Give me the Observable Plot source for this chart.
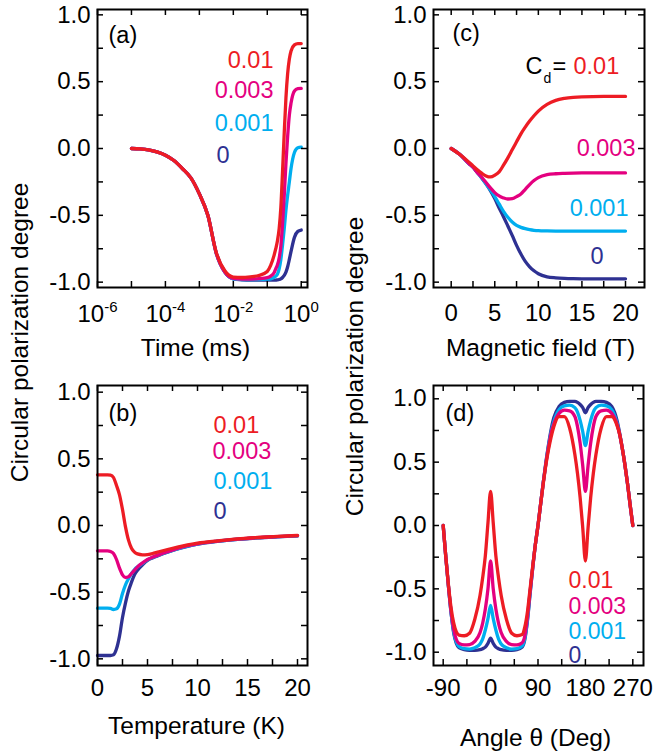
<!DOCTYPE html>
<html><head><meta charset="utf-8">
<script src="https://cdn.jsdelivr.net/npm/d3@7"></script>
<script src="https://cdn.jsdelivr.net/npm/@observablehq/plot@0.6"></script>
<style>
html,body{margin:0;padding:0;background:#fff;}
#chart{position:relative;width:653px;height:752px;overflow:hidden;}
#chart svg{position:absolute;left:0;top:0;}
</style></head><body><div id="chart"></div>
<script>
// ---------- data ----------
const seriesOrder = ["0", "0.001", "0.003", "0.01"];   // C_d values (drawing order)
const yTickLabels = [-1, -0.5, 0, 0.5, 1];
const yTickMarks = [-1, -0.75, -0.5, -0.25, 0, 0.25, 0.5, 0.75, 1];

// (a) time dependence, exponent of time in ms
const timeExp = [-5, -4.75, -4.5, -4.25, -4, -3.75, -3.5, -3.25, -3, -2.75, -2.5, -2.25, -2, -1.75, -1.5, -1.25, -1, -0.9, -0.8, -0.75, -0.7, -0.65, -0.6, -0.55, -0.5, -0.45, -0.4, -0.35, -0.3, -0.2, -0.1, 0];
const aRed     = [0, -0.003, -0.01, -0.025, -0.05, -0.09, -0.15, -0.22, -0.34, -0.5, -0.78, -0.915, -0.962, -0.965, -0.96, -0.95, -0.92, -0.875, -0.8, -0.75, -0.69, -0.6, -0.44, -0.17, 0.12, 0.38, 0.56, 0.67, 0.73, 0.775, 0.785, 0.785];
const aMagenta = [0, -0.003, -0.01, -0.025, -0.05, -0.09, -0.15, -0.22, -0.34, -0.5, -0.785, -0.925, -0.972, -0.978, -0.977, -0.974, -0.966, -0.955, -0.93, -0.9, -0.87, -0.82, -0.73, -0.56, -0.35, -0.11, 0.09, 0.25, 0.34, 0.43, 0.448, 0.45];
const aCyan    = [0, -0.003, -0.01, -0.025, -0.05, -0.09, -0.15, -0.22, -0.34, -0.5, -0.785, -0.925, -0.975, -0.98, -0.98, -0.98, -0.978, -0.975, -0.965, -0.955, -0.94, -0.9, -0.83, -0.72, -0.6, -0.46, -0.35, -0.25, -0.15, -0.03, 0.005, 0.01];
const aNavy    = [0, -0.003, -0.01, -0.025, -0.05, -0.09, -0.15, -0.22, -0.34, -0.5, -0.785, -0.925, -0.975, -0.982, -0.985, -0.985, -0.985, -0.985, -0.985, -0.985, -0.983, -0.98, -0.975, -0.965, -0.95, -0.925, -0.885, -0.83, -0.77, -0.665, -0.62, -0.61];
const aXTickLabels = [1e-6, 1e-4, 1e-2, 1];
const aXTickMarks = [1e-6, 1e-5, 1e-4, 1e-3, 1e-2, 1e-1, 1];

// (c) magnetic field dependence
const field = [0, 1, 2, 2.5, 3, 3.5, 4, 4.5, 5, 5.5, 6, 6.5, 7, 7.5, 8, 8.5, 9, 9.5, 10, 11, 12, 13, 14, 15, 17.5, 20];
const cNavy    = [0, -0.045, -0.11, -0.14, -0.18, -0.22, -0.265, -0.315, -0.375, -0.445, -0.51, -0.58, -0.65, -0.725, -0.79, -0.845, -0.885, -0.915, -0.937, -0.96, -0.968, -0.972, -0.974, -0.975, -0.975, -0.975];
const cCyan    = [0, -0.045, -0.11, -0.14, -0.18, -0.22, -0.265, -0.31, -0.36, -0.415, -0.47, -0.515, -0.55, -0.575, -0.59, -0.6, -0.607, -0.612, -0.615, -0.617, -0.618, -0.618, -0.618, -0.618, -0.618, -0.618];
const cMagenta = [0, -0.045, -0.11, -0.14, -0.18, -0.215, -0.255, -0.295, -0.33, -0.355, -0.37, -0.378, -0.375, -0.36, -0.34, -0.305, -0.27, -0.24, -0.218, -0.196, -0.189, -0.186, -0.184, -0.183, -0.183, -0.183];
const cRed     = [0, -0.045, -0.1, -0.13, -0.16, -0.185, -0.205, -0.213, -0.2, -0.175, -0.125, -0.07, -0.01, 0.05, 0.11, 0.16, 0.205, 0.245, 0.28, 0.33, 0.36, 0.375, 0.383, 0.387, 0.39, 0.39];
const cXTickLabels = [0, 5, 10, 15, 20];
const cXTickMarks = [0, 2.5, 5, 7.5, 10, 12.5, 15, 17.5, 20];

// (b) temperature dependence
const temperature = [0, 0.5, 1, 1.3, 1.6, 1.9, 2.2, 2.5, 2.8, 3.1, 3.4, 3.7, 4, 4.5, 5, 5.5, 6, 7, 8, 9, 10, 12, 14, 16, 18, 20];
const bRed     = [0.38, 0.38, 0.38, 0.378, 0.36, 0.3, 0.23, 0.12, -0.01, -0.11, -0.17, -0.2, -0.213, -0.22, -0.218, -0.21, -0.2, -0.18, -0.162, -0.145, -0.132, -0.115, -0.1, -0.09, -0.082, -0.075];
const bMagenta = [-0.19, -0.19, -0.19, -0.195, -0.21, -0.255, -0.32, -0.37, -0.39, -0.385, -0.36, -0.335, -0.31, -0.28, -0.255, -0.238, -0.224, -0.197, -0.172, -0.152, -0.137, -0.117, -0.102, -0.091, -0.083, -0.076];
const bCyan    = [-0.62, -0.62, -0.62, -0.622, -0.63, -0.625, -0.59, -0.51, -0.445, -0.4, -0.36, -0.33, -0.31, -0.285, -0.258, -0.24, -0.225, -0.199, -0.175, -0.155, -0.139, -0.118, -0.103, -0.092, -0.084, -0.077];
const bNavy    = [-0.975, -0.975, -0.975, -0.975, -0.97, -0.925, -0.83, -0.69, -0.58, -0.49, -0.425, -0.37, -0.335, -0.295, -0.262, -0.243, -0.228, -0.2, -0.176, -0.156, -0.14, -0.119, -0.104, -0.093, -0.085, -0.078];
const bXTickLabels = [0, 5, 10, 15, 20];
const bXTickMarks = [0, 2.5, 5, 7.5, 10, 12.5, 15, 17.5, 20];

// (d) angle dependence
const angle = [-90, -85, -80, -75, -70, -65, -60, -50, -40, -30, -20, -15, -10, -5, 0, 5, 10, 15, 20, 30, 40, 50, 60, 65, 70, 75, 80, 85, 90, 95, 100, 105, 110, 115, 120, 130, 140, 150, 160, 165, 170, 175, 180, 185, 190, 195, 200, 210, 220, 230, 240, 245, 250, 255, 260, 265, 270];
const dRed     = [0, -0.25, -0.47, -0.65, -0.77, -0.84, -0.865, -0.87, -0.85, -0.74, -0.55, -0.41, -0.24, 0.02, 0.27, 0.02, -0.24, -0.41, -0.55, -0.74, -0.85, -0.87, -0.86, -0.8, -0.68, -0.5, -0.32, -0.15, 0, 0.17, 0.33, 0.48, 0.6, 0.7, 0.78, 0.86, 0.86, 0.77, 0.56, 0.41, 0.22, -0.02, -0.28, -0.02, 0.22, 0.41, 0.56, 0.77, 0.86, 0.86, 0.79, 0.72, 0.61, 0.48, 0.33, 0.16, 0];
const dMagenta = [0, -0.25, -0.48, -0.68, -0.82, -0.9, -0.93, -0.942, -0.94, -0.915, -0.845, -0.77, -0.66, -0.5, -0.28, -0.5, -0.66, -0.77, -0.845, -0.915, -0.94, -0.942, -0.925, -0.87, -0.72, -0.52, -0.33, -0.15, 0, 0.17, 0.34, 0.49, 0.62, 0.73, 0.8, 0.885, 0.91, 0.905, 0.86, 0.78, 0.65, 0.47, 0.27, 0.47, 0.65, 0.78, 0.86, 0.905, 0.91, 0.885, 0.8, 0.72, 0.61, 0.48, 0.33, 0.16, 0];
const dCyan    = [0, -0.25, -0.48, -0.69, -0.84, -0.92, -0.955, -0.972, -0.975, -0.965, -0.935, -0.895, -0.825, -0.735, -0.63, -0.735, -0.825, -0.895, -0.935, -0.965, -0.975, -0.972, -0.95, -0.89, -0.74, -0.53, -0.33, -0.15, 0, 0.17, 0.34, 0.49, 0.63, 0.74, 0.82, 0.915, 0.945, 0.95, 0.93, 0.895, 0.83, 0.74, 0.63, 0.74, 0.83, 0.895, 0.93, 0.95, 0.945, 0.915, 0.81, 0.72, 0.61, 0.48, 0.33, 0.16, 0];
const dNavy    = [0, -0.25, -0.48, -0.69, -0.85, -0.93, -0.965, -0.98, -0.985, -0.985, -0.98, -0.972, -0.96, -0.93, -0.89, -0.93, -0.96, -0.972, -0.98, -0.985, -0.985, -0.98, -0.96, -0.9, -0.75, -0.54, -0.335, -0.15, 0, 0.17, 0.34, 0.5, 0.64, 0.76, 0.85, 0.94, 0.972, 0.98, 0.98, 0.972, 0.955, 0.93, 0.89, 0.93, 0.955, 0.972, 0.98, 0.98, 0.972, 0.94, 0.83, 0.73, 0.61, 0.48, 0.33, 0.16, 0];
const dXTickLabels = [-90, 0, 90, 180, 270];
const dXTickMarks = [-90, -45, 0, 45, 90, 135, 180, 225, 270];

// ---------- style ----------
const W = 653, H = 752;
const FONT = "'Liberation Sans', Arial, Helvetica, sans-serif";
const colors = {"0.01": "#ED1C24", "0.003": "#E4007F", "0.001": "#00AEEF", "0": "#2E3192"};

function txt(str, ax, ay, fr, opts = {}) {
  return Plot.text([str], {
    text: d => d, frameAnchor: "top-left",
    dx: ax - fr[0], dy: ay - fr[2],
    textAnchor: "start", lineAnchor: "bottom", fontSize: 23.5, fill: "#000",
    ...opts
  });
}

function panel(cfg) {
  const [L, R, T, B] = cfg.frame;
  const pw = R - L, ph = B - T;
  const lines = seriesOrder.map(name => {
    const rows = cfg.xs.map((x, i) => ({x, y: cfg.ys[name][i]}));
    return Plot.line(rows, {x: "x", y: "y", stroke: colors[name], strokeWidth: 3.3, curve: "monotone-x"});
  });
  const marks = [
    ...lines,
    Plot.tickY(yTickMarks, {y: d => d, insetRight: pw - 6, strokeWidth: 1.5, stroke: "#000"}),
    Plot.tickY(yTickMarks, {y: d => d, insetLeft: pw - 6, strokeWidth: 1.5, stroke: "#000"}),
    Plot.tickX(cfg.xTickMarks, {x: d => d, insetTop: ph - 6, strokeWidth: 1.5, stroke: "#000"}),
    Plot.tickX(cfg.xTickMarks, {x: d => d, insetBottom: ph - 6, strokeWidth: 1.5, stroke: "#000"}),
    Plot.frame({stroke: "#000", strokeWidth: 2}),
    Plot.axisY(yTickLabels, {anchor: "left", tickSize: 0, tickPadding: 7, tickFormat: d => d.toFixed(1), fontSize: 24, label: null, fill: "#000"}),
    Plot.axisX(cfg.xTickLabels, {anchor: "bottom", tickSize: 0, tickPadding: cfg.xPad, tickFormat: cfg.xTickFormat, fontSize: 24, label: null, fill: "#000"}),
    ...cfg.texts
  ];
  return Plot.plot({
    width: W, height: H,
    marginLeft: L, marginRight: W - R, marginTop: T, marginBottom: H - B,
    x: cfg.xScale, y: {domain: cfg.yDomain},
    style: {background: "transparent", overflow: "visible", fontFamily: FONT, fontSize: "24px", color: "#000"},
    marks
  });
}

const chart = document.getElementById("chart");

// (a)
const frA = [97, 307, 9, 287];
const svgA = panel({
  frame: frA,
  xs: timeExp.map(e => Math.pow(10, e)),
  ys: {"0.01": aRed, "0.003": aMagenta, "0.001": aCyan, "0": aNavy},
  xScale: {type: "log", domain: [1e-6, 1.53]},
  yDomain: [-1.04, 1.04],
  xTickLabels: aXTickLabels, xTickMarks: aXTickMarks, xPad: 17,
  xTickFormat: d => "10^" + Math.round(Math.log10(d)),
  texts: [
    txt("(a)", 108, 42, frA),
    txt("0.01", 273, 67, frA, {textAnchor: "end", fill: colors["0.01"]}),
    txt("0.003", 273, 97, frA, {textAnchor: "end", fill: colors["0.003"]}),
    txt("0.001", 273, 130, frA, {textAnchor: "end", fill: colors["0.001"]}),
    txt("0", 216, 162, frA, {fill: colors["0"]}),
    txt("Time (ms)", 195, 355, frA, {textAnchor: "middle", fontSize: 24.5}),
    txt("Circular polarization degree", 27, 332, frA, {textAnchor: "middle", fontSize: 24.5, rotate: -90})
  ]
});
chart.appendChild(svgA);

// (c)
const frC = [433, 644, 9, 287];
const svgC = panel({
  frame: frC,
  xs: field,
  ys: {"0.01": cRed, "0.003": cMagenta, "0.001": cCyan, "0": cNavy},
  xScale: {type: "linear", domain: [-2.03, 22.18]},
  yDomain: [-1.04, 1.04],
  xTickLabels: cXTickLabels, xTickMarks: cXTickMarks, xPad: 16,
  xTickFormat: d => String(d),
  texts: [
    txt("(c)", 452, 40, frC),
    txt("C", 525, 73, frC),
    txt("d", 543, 82, frC, {fontSize: 14}),
    txt("=", 552, 73, frC),
    txt("0.01", 573, 73, frC, {fill: colors["0.01"]}),
    txt("0.003", 635, 155, frC, {textAnchor: "end", fill: colors["0.003"]}),
    txt("0.001", 628, 215, frC, {textAnchor: "end", fill: colors["0.001"]}),
    txt("0", 590, 263, frC, {fill: colors["0"]}),
    txt("Magnetic field (T)", 540, 355, frC, {textAnchor: "middle", fontSize: 24.5}),
    txt("Circular polarization degree", 362, 366, frC, {textAnchor: "middle", fontSize: 24.5, rotate: -90})
  ]
});
chart.appendChild(svgC);

// (b)
const frB = [97, 307, 385, 665];
const svgB = panel({
  frame: frB,
  xs: temperature,
  ys: {"0.01": bRed, "0.003": bMagenta, "0.001": bCyan, "0": bNavy},
  xScale: {type: "linear", domain: [0, 21]},
  yDomain: [-1.05, 1.05],
  xTickLabels: bXTickLabels, xTickMarks: bXTickMarks, xPad: 13,
  xTickFormat: d => String(d),
  texts: [
    txt("(b)", 108, 420, frB),
    txt("0.01", 213, 432, frB, {fill: colors["0.01"]}),
    txt("0.003", 212, 458, frB, {fill: colors["0.003"]}),
    txt("0.001", 213, 488, frB, {fill: colors["0.001"]}),
    txt("0", 213, 518, frB, {fill: colors["0"]}),
    txt("Temperature (K)", 196, 733, frB, {textAnchor: "middle", fontSize: 24.5})
  ]
});
chart.appendChild(svgB);

// (d)
const frD = [433, 643, 385, 665];
const svgD = panel({
  frame: frD,
  xs: angle,
  ys: {"0.01": dRed, "0.003": dMagenta, "0.001": dCyan, "0": dNavy},
  xScale: {type: "linear", domain: [-108.4, 290.3]},
  yDomain: [-1.105, 1.105],
  xTickLabels: dXTickLabels, xTickMarks: dXTickMarks, xPad: 13,
  xTickFormat: d => String(d),
  texts: [
    txt("(d)", 445, 420, frD),
    txt("0.01", 568, 587, frD, {fill: colors["0.01"], fontSize: 23}),
    txt("0.003", 568, 613, frD, {fill: colors["0.003"], fontSize: 23}),
    txt("0.001", 568, 638, frD, {fill: colors["0.001"], fontSize: 23}),
    txt("0", 568, 662, frD, {fill: colors["0"], fontSize: 23}),
    txt("Angle \u03B8 (Deg)", 535, 745, frD, {textAnchor: "middle", fontSize: 24.5})
  ]
});
chart.appendChild(svgD);

// superscript exponents on the log-axis tick labels of (a)
svgA.querySelectorAll('g[aria-label="x-axis tick label"] text').forEach(t => {
  const s = t.textContent;
  const m = s.match(/^10\^(-?\d+)$/);
  if (!m) return;
  t.textContent = "10";
  const sup = document.createElementNS("http://www.w3.org/2000/svg", "tspan");
  sup.setAttribute("font-size", "15");
  sup.setAttribute("dy", "-10");
  sup.textContent = m[1];
  t.appendChild(sup);
});
</script>
</body></html>
